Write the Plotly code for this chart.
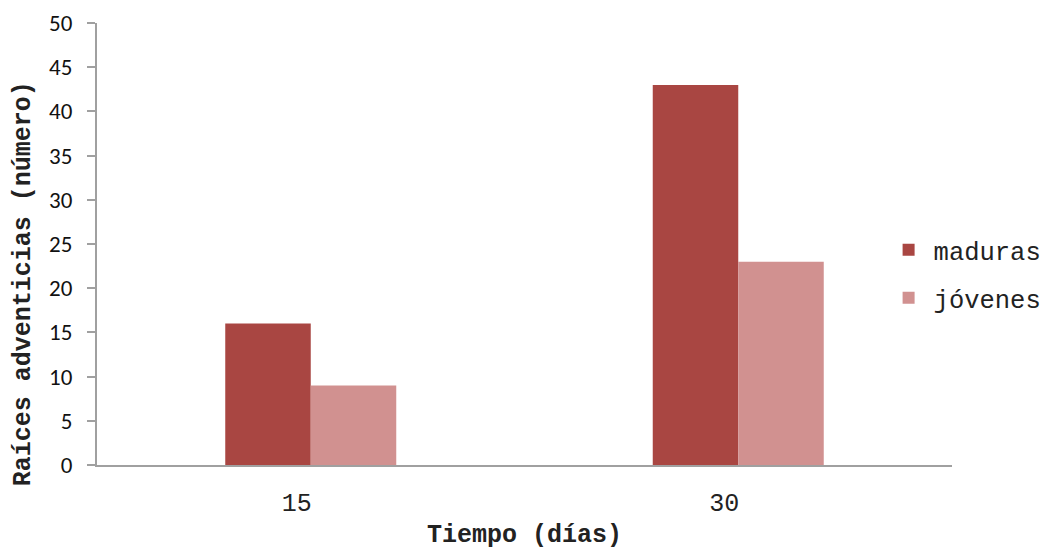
import plotly.graph_objects as go

# Días de observación y número de raíces adventicias por tipo de estaca
dias = ["15", "30"]
maduras = [16, 43]
jovenes = [9, 23]
y_ticks = list(range(0, 51, 5))

MONO = "Liberation Mono, Courier New, monospace"
SANS = "Carlito, Open Sans, Liberation Sans, Arial, sans-serif"

fig = go.Figure()
fig.add_trace(go.Bar(x=dias, y=maduras, name="maduras", marker_color="#A94642",
                     legendgroup="a", marker_line_width=0))
fig.add_trace(go.Bar(x=dias, y=jovenes, name="jóvenes", marker_color="#D19190",
                     legendgroup="b", marker_line_width=0))

fig.update_layout(
    width=1049, height=550,
    paper_bgcolor="white", plot_bgcolor="white",
    margin=dict(l=97, r=97, t=23, b=85, autoexpand=False),
    barmode="group", bargap=0.6, bargroupgap=0,
    showlegend=True,
    legend=dict(x=0.92, xanchor="left", y=0.432, yanchor="middle",
                font=dict(family=MONO, size=25.5, color="#222222"),
                traceorder="grouped", tracegroupgap=12, itemwidth=40,
                bgcolor="rgba(0,0,0,0)"),
    xaxis=dict(showline=True, linecolor="#A0A0A0", linewidth=2,
               ticks="", showgrid=False, ticklabelstandoff=14,
               ticklabelshift=-14,
               tickfont=dict(family=MONO, size=25, color="#222222")),
    yaxis=dict(range=[0, 50], tickvals=y_ticks, showline=True,
               linecolor="#A0A0A0", linewidth=2, ticks="outside",
               ticklen=8, tickcolor="#A0A0A0", tickwidth=2, showgrid=False,
               zeroline=False,
               tickfont=dict(family=SANS, size=23, color="#111111"),
               ticklabelstandoff=10),
    annotations=[
        dict(text="<b>Tiempo (días)</b>", xref="paper", yref="paper",
             x=0.5, y=-0.16, xanchor="center", yanchor="middle", showarrow=False,
             font=dict(family=MONO, size=25, color="#222222")),
        dict(text="<b>Raíces adventicias (número)</b>", xref="paper", yref="paper",
             x=-0.086, y=0.41, xanchor="center", yanchor="middle", showarrow=False,
             textangle=-90, font=dict(family=MONO, size=25, color="#222222")),
    ],
)

fig.write_html("out.html")
